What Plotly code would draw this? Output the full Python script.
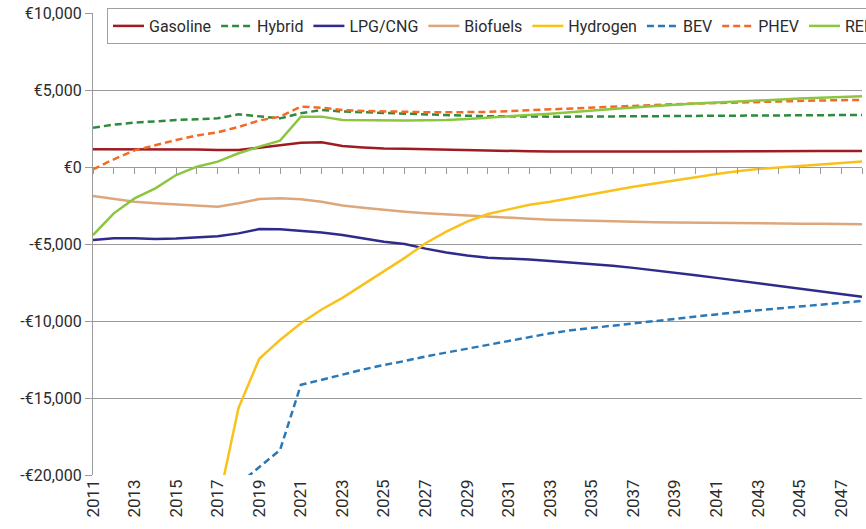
import plotly.graph_objects as go

years = list(range(2011, 2049))

gasoline = [1150, 1150, 1120, 1130, 1150, 1130, 1100, 1100, 1250, 1430,
            1580, 1600, 1360, 1270, 1200, 1180, 1150, 1120, 1080, 1060,
            1040, 1020, 1010, 1000, 1000, 1000, 1000, 1010, 1010, 1020,
            1020, 1030, 1030, 1040, 1040, 1040, 1040, 1040]

hybrid = [2550, 2750, 2880, 2970, 3050, 3100, 3160, 3420, 3300, 3160,
          3490, 3700, 3600, 3550, 3500, 3450, 3400, 3350, 3330, 3300,
          3280, 3270, 3270, 3270, 3280, 3290, 3300, 3310, 3310, 3320,
          3330, 3340, 3350, 3360, 3370, 3370, 3380, 3380]

lpg_cng = [-4740, -4620, -4620, -4680, -4650, -4580, -4500, -4310, -4030, -4050,
           -4160, -4250, -4420, -4650, -4850, -5000, -5300, -5550, -5750, -5900,
           -5950, -6000, -6100, -6200, -6300, -6420, -6550, -6700, -6870, -7030,
           -7200, -7370, -7530, -7700, -7870, -8050, -8230, -8420]

biofuels = [-1880, -2080, -2250, -2350, -2420, -2500, -2580, -2360, -2080, -2030,
            -2100, -2250, -2500, -2650, -2790, -2900, -3000, -3080, -3160, -3240,
            -3300, -3360, -3420, -3460, -3500, -3530, -3560, -3580, -3600, -3620,
            -3640, -3650, -3660, -3670, -3680, -3690, -3700, -3710]

hydrogen = [None, None, None, None, None, None, -22000, -15650, -12450, -11230,
            -10150, -9250, -8500, -7650, -6800, -5900, -4950, -4200, -3550, -3050,
            -2750, -2450, -2250, -2020, -1780, -1530, -1280, -1060, -850, -660,
            -460, -270, -130, -20, 70, 170, 260, 350]

bev = [None, None, None, None, None, None, None, -20600, -19470, -18380,
       -14150, -13800, -13450, -13150, -12850, -12600, -12300, -12050, -11800, -11550,
       -11300, -11050, -10800, -10600, -10450, -10300, -10150, -10000, -9850, -9700,
       -9550, -9420, -9300, -9180, -9060, -8940, -8820, -8700]

phev = [-150, 500, 1080, 1420, 1750, 2050, 2250, 2600, 3020, 3270,
        3920, 3850, 3700, 3640, 3600, 3580, 3560, 3550, 3550, 3580,
        3630, 3690, 3750, 3820, 3880, 3940, 3990, 4040, 4080, 4120,
        4160, 4210, 4250, 4280, 4300, 4320, 4340, 4360]

reev = [-4420, -3010, -2040, -1390, -520, 20, 350, 890, 1320, 1710,
        3270, 3270, 3050, 3030, 3020, 3020, 3030, 3050, 3120, 3220,
        3300, 3380, 3460, 3550, 3650, 3760, 3870, 3980, 4050, 4120,
        4190, 4260, 4320, 4380, 4440, 4490, 4540, 4590]

y_tick_vals = [10000, 5000, 0, -5000, -10000, -15000, -20000]
y_tick_text = ["€10,000", "€5,000", "€0", "-€5,000", "-€10,000", "-€15,000", "-€20,000"]
y_grid_vals = [5000, 0, -5000, -10000, -15000, -20000]
x_tick_vals = list(range(2011, 2048, 2))

series = [
    ("Gasoline", gasoline, "#9e1b22", "solid"),
    ("Hybrid", hybrid, "#2e8a3c", "7px,4px"),
    ("LPG/CNG", lpg_cng, "#2f2b8c", "solid"),
    ("Biofuels", biofuels, "#dca77c", "solid"),
    ("Hydrogen", hydrogen, "#f9c21a", "solid"),
    ("BEV", bev, "#2a78b6", "7px,4px"),
    ("PHEV", phev, "#f26a24", "7px,4px"),
    ("REEV", reev, "#8cc63f", "solid"),
]

fig = go.Figure()
for name, vals, color, dash in series:
    fig.add_trace(go.Scatter(
        x=years, y=vals, name=name, mode="lines",
        line=dict(color=color, width=2.5, dash=dash),
        connectgaps=False,
    ))

# empty helper trace so the overlay axes (grid + tick marks at y=0) are rendered
fig.add_trace(go.Scatter(x=[], y=[], xaxis="x2", yaxis="y2",
                         showlegend=False, hoverinfo="skip"))

W, H = 866, 529
x0, x1 = 93, 862
yt, yb = 13, 475
dom_x = [x0 / W, x1 / W]
dom_y = [(H - yb) / H, (H - yt) / H]
zero_pos = dom_y[0] + (0 - (-20000)) / 30000 * (dom_y[1] - dom_y[0])

grid_col = "#9a9a9a"
text_col = "#2b2b2b"
font_fam = "Roboto, Arial, sans-serif"

fig.update_layout(
    width=W, height=H,
    margin=dict(l=0, r=0, t=0, b=0, autoexpand=False),
    paper_bgcolor="white", plot_bgcolor="white",
    font=dict(family=font_fam, color=text_col, size=16),
    showlegend=True,
    legend=dict(
        orientation="h", x=107 / W, xanchor="left", y=1 - 8 / H, yanchor="top",
        bgcolor="white", bordercolor="#a0a0a0", borderwidth=1,
        font=dict(family=font_fam, size=16, color=text_col),
        itemwidth=31,
    ),
    xaxis=dict(
        domain=dom_x, range=[2011, 2048], tickmode="array", tickvals=x_tick_vals,
        tickangle=-90, ticks="", showgrid=False, zeroline=False, showline=False,
        tickfont=dict(size=17, color=text_col, family=font_fam),
        anchor="y",
    ),
    xaxis2=dict(
        overlaying="x", matches="x", range=[2011, 2048], anchor="free", position=zero_pos,
        side="bottom", tickmode="linear", tick0=2011, dtick=1, ticks="outside",
        ticklen=6, tickcolor=grid_col, tickwidth=1, showticklabels=False,
        showgrid=False, zeroline=False, showline=False,
    ),
    yaxis=dict(
        domain=dom_y, range=[-20000, 10000], tickmode="array",
        tickvals=y_tick_vals, ticktext=y_tick_text,
        ticks="outside", ticklen=7, tickcolor=grid_col, tickwidth=1,
        showgrid=False, zeroline=False,
        showline=True, linecolor=grid_col, linewidth=1,
        tickfont=dict(size=16, color=text_col, family=font_fam),
        anchor="x",
    ),
    yaxis2=dict(
        overlaying="y", matches="y", range=[-20000, 10000], anchor="x2",
        tickmode="array", tickvals=y_grid_vals, showticklabels=False, ticks="",
        showgrid=True, gridcolor=grid_col, gridwidth=1,
        zeroline=False, showline=False,
    ),
)

fig.write_html("out.html", config={"displayModeBar": False},
               post_script="document.body.style.margin='0px';")
